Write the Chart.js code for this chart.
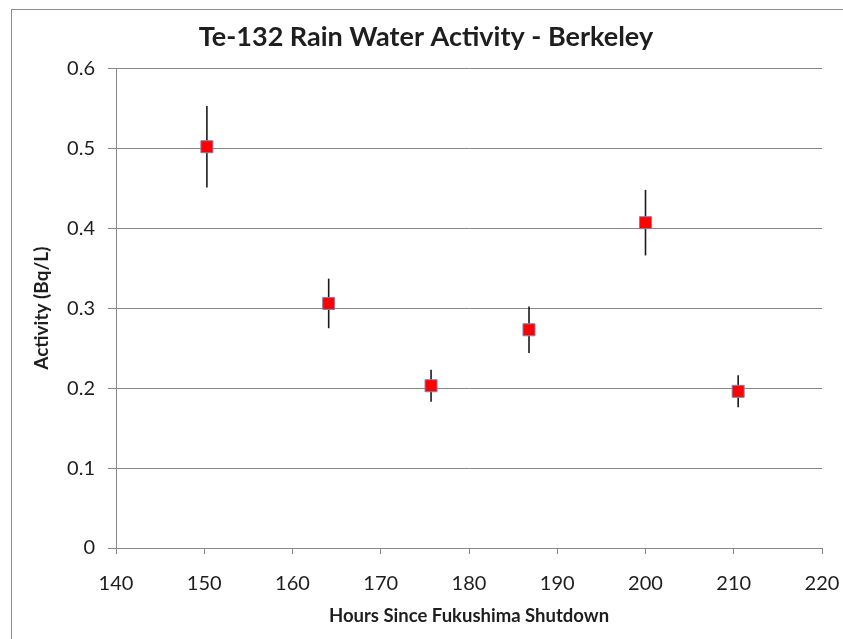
<!DOCTYPE html>
<html>
<head>
<meta charset="utf-8">
<title>Te-132 Rain Water Activity - Berkeley</title>
<script src="https://cdn.jsdelivr.net/npm/chart.js@4/dist/chart.umd.min.js"></script>
<style>
  html, body { margin: 0; padding: 0; background: #fff; }
  #wrap { position: relative; width: 843px; height: 639px; }
  #frame {
    position: absolute; left: 11px; top: 9px; right: -2px; bottom: -2px;
    border-left: 1px solid #8c8c8c; border-top: 1px solid #8c8c8c;
  }
  canvas { position: absolute; left: 0; top: 0; }
</style>
</head>
<body>
<div id="wrap">
  <div id="frame"></div>
  <canvas id="rainChart" width="843" height="639"></canvas>
</div>
<script>
// Te-132 rain water samples
const hours = [150.3, 164.1, 175.7, 186.8, 200.0, 210.5];
const activity = [0.502, 0.306, 0.203, 0.273, 0.407, 0.196];
const errors = [0.051, 0.031, 0.020, 0.029, 0.041, 0.020];

const xTicks = [140, 150, 160, 170, 180, 190, 200, 210, 220];
const yTicks = [0, 0.1, 0.2, 0.3, 0.4, 0.5, 0.6];

const textColor = '#1e1e1e';
const lineColor = '#878787';
const fontFamily = 'Lato, "Open Sans", sans-serif';

// vertical error bars, drawn under the markers
const errorBarPlugin = {
  id: 'errorBars',
  beforeDatasetsDraw(chart) {
    const ctx = chart.ctx;
    const xScale = chart.scales.x;
    const yScale = chart.scales.y;
    ctx.save();
    ctx.strokeStyle = '#1a1a1a';
    ctx.lineWidth = 1.6;
    hours.forEach((h, i) => {
      const px = xScale.getPixelForValue(h);
      const top = yScale.getPixelForValue(activity[i] + errors[i]);
      const bottom = yScale.getPixelForValue(activity[i] - errors[i]);
      ctx.beginPath();
      ctx.moveTo(px, top);
      ctx.lineTo(px, bottom);
      ctx.stroke();
    });
    ctx.restore();
  }
};

const points = hours.map((h, i) => ({ x: h, y: activity[i] }));

new Chart(document.getElementById('rainChart'), {
  type: 'scatter',
  data: {
    datasets: [{
      label: 'Te-132',
      data: points,
      pointStyle: 'rect',
      pointRadius: 8.5,
      pointHoverRadius: 8.5,
      backgroundColor: '#ff0000',
      borderColor: '#8a7fa6',
      borderWidth: 1
    }]
  },
  options: {
    responsive: false,
    animation: false,
    layout: { padding: { left: 30, right: 21, top: 0, bottom: 0 } },
    plugins: {
      legend: { display: false },
      tooltip: { enabled: false },
      title: {
        display: true,
        text: 'Te-132 Rain Water Activity - Berkeley',
        color: textColor,
        font: { family: fontFamily, size: 27, weight: 'bold' },
        padding: { top: 21, bottom: 15 }
      }
    },
    scales: {
      x: {
        type: 'linear',
        min: 140,
        max: 220,
        afterBuildTicks: axis => { axis.ticks = xTicks.map(v => ({ value: v })); },
        afterFit: axis => {
          axis.height = 91;
          axis.paddingLeft = 0;
          axis.paddingRight = 0;
        },
        grid: {
          drawOnChartArea: false,
          drawTicks: true,
          tickLength: 6,
          color: lineColor
        },
        border: { color: lineColor, width: 1 },
        ticks: {
          color: textColor,
          font: { family: fontFamily, size: 20 },
          padding: 18
        },
        title: {
          display: true,
          text: 'Hours Since Fukushima Shutdown',
          color: textColor,
          font: { family: fontFamily, size: 18.5, weight: 'bold' },
          padding: { top: 0, bottom: 12 }
        }
      },
      y: {
        min: 0,
        max: 0.6,
        afterBuildTicks: axis => { axis.ticks = yTicks.map(v => ({ value: v })); },
        afterFit: axis => { axis.width = 86; },
        grid: {
          color: lineColor,
          lineWidth: 1,
          tickLength: 8
        },
        border: { color: lineColor, width: 1 },
        ticks: {
          color: textColor,
          font: { family: fontFamily, size: 20 },
          padding: 13,
          callback: v => (v === 0 ? '0' : v.toFixed(1))
        },
        title: {
          display: true,
          text: 'Activity (Bq/L)',
          color: textColor,
          font: { family: fontFamily, size: 19, weight: 'bold' },
          padding: { top: 0, bottom: 0 }
        }
      }
    }
  },
  plugins: [errorBarPlugin]
});
</script>
</body>
</html>
